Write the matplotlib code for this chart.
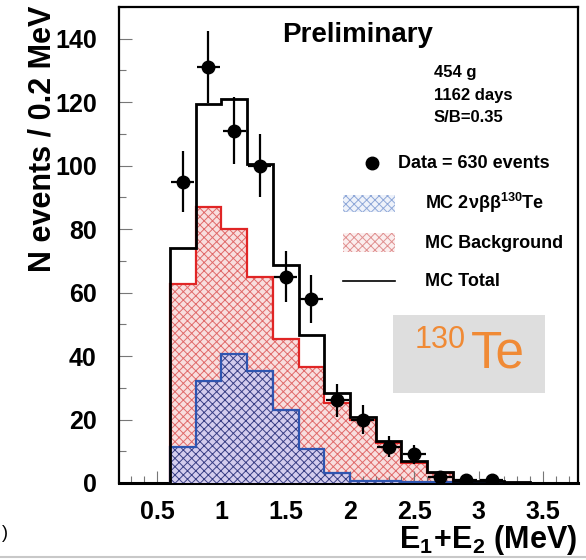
import matplotlib
matplotlib.use("Agg")
import matplotlib.pyplot as plt
from matplotlib.patches import Rectangle
from matplotlib.lines import Line2D
from matplotlib.ticker import MultipleLocator
import numpy as np

plt.rcParams['font.family'] = ['Liberation Sans', 'DejaVu Sans']
plt.rcParams['mathtext.fontset'] = 'custom'
plt.rcParams['mathtext.rm'] = 'Liberation Sans'
plt.rcParams['mathtext.bf'] = 'Liberation Sans:bold'
plt.rcParams['mathtext.it'] = 'Liberation Sans:italic'
plt.rcParams['hatch.linewidth'] = 0.7

# 1. DATA
bin_edges = [0.6, 0.8, 1.0, 1.2, 1.4, 1.6, 1.8, 2.0, 2.2, 2.4, 2.6, 2.8, 3.0, 3.2, 3.4]
mc_signal = [11.3, 32, 40.7, 35.4, 23, 10.8, 3.1, 0.5, 0.5, 0.4, 0.4, 0.0, 0.0, 0.0]
mc_background = [62.6, 87, 80, 64.8, 45.4, 36.5, 25.2, 20, 12.5, 6.3, 3.1, 0.4, 0.4, 0.0]
mc_total = [74, 119.5, 121, 100.4, 68.6, 46.6, 28.3, 20.8, 13.1, 6.8, 3.5, 0.5, 0.5, 0.2]

data_x = [0.7, 0.9, 1.1, 1.3, 1.5, 1.7, 1.9, 2.1, 2.3, 2.5, 2.7, 2.9, 3.1]
data_y = [95, 131, 111, 100, 65, 58, 26, 20, 11.5, 9, 2, 0.8, 0.8]
data_err = [9.7, 11.4, 10.5, 10, 8, 7.6, 5.1, 4.5, 3.4, 3, 1.4, 0.9, 0.9]

# 2. FIGURE
fig = plt.figure(figsize=(5.86, 5.6), dpi=100)
ax = fig.add_axes([0.203, 0.1375, 0.783, 0.85])

# background (red) then signal (blue), both from zero
ax.stairs(mc_background, bin_edges, fill=True, facecolor='#f8dede',
          edgecolor='#e06a6a', hatch='xxxx', lw=0, zorder=1)
ax.stairs(mc_background, bin_edges, color='#e02525', lw=1.6, zorder=2)
ax.stairs(mc_signal, bin_edges, fill=True, facecolor='#d4cdee',
          edgecolor='#3a3f85', hatch='xxxx', lw=0, zorder=3)
ax.stairs(mc_signal, bin_edges, color='#2f55b0', lw=1.6, zorder=4)
ax.stairs(mc_total, bin_edges, color='black', lw=2, zorder=5)

ax.errorbar(data_x, data_y, yerr=data_err, xerr=0.09, fmt='o', color='black',
            ms=9, elinewidth=1.6, capsize=0, zorder=6)

# Limits & ticks
ax.set_xlim(0.205, 3.77)
ax.set_ylim(0, 150)
ax.xaxis.set_major_locator(MultipleLocator(0.5))
ax.xaxis.set_minor_locator(MultipleLocator(0.1))
ax.yaxis.set_major_locator(MultipleLocator(20))
ax.yaxis.set_minor_locator(MultipleLocator(10))
ax.tick_params(which='both', direction='in', top=False, right=False, color='#777777')
ax.tick_params(which='major', length=9, width=0.8)
ax.tick_params(which='minor', length=5, width=0.8)
ax.tick_params(axis='y', which='major', pad=16, labelsize=18)
ax.tick_params(axis='x', which='major', pad=12, labelsize=18)
ax.set_xticks([0.5, 1, 1.5, 2, 2.5, 3, 3.5], ['0.5', '1', '1.5', '2', '2.5', '3', '3.5'])
for lab in ax.get_xticklabels() + ax.get_yticklabels():
    lab.set_fontweight('bold')
for s in ax.spines.values():
    s.set_linewidth(1.6)
ax.spines['bottom'].set_linewidth(2.2)

fig.text(0.072, 0.753, 'N events / 0.2 MeV', rotation=90, ha='center', va='center',
         fontsize=22, fontweight='bold')
fig.text(0.985, 0.036, r'$\mathbf{E_{1}\!+\!E_{2}}$ (MeV)', ha='right', va='center',
         fontsize=22, fontweight='bold')

# Annotations
ax.text(0.355, 0.941, 'Preliminary', transform=ax.transAxes, ha='left', va='center',
        fontsize=20, fontweight='bold')
for txt, yy in [('454 g', 0.863), ('1162 days', 0.815), ('S/B=0.35', 0.767)]:
    ax.text(0.686, yy, txt, transform=ax.transAxes, ha='left', va='center',
            fontsize=12, fontweight='bold')

# Legend (hand-made)
ax.plot([0.551], [0.672], 'o', color='black', ms=9, transform=ax.transAxes, clip_on=False)
ax.text(0.608, 0.672, 'Data = 630 events', transform=ax.transAxes, ha='left', va='center',
        fontsize=13, fontweight='bold')
ax.add_patch(Rectangle((0.488, 0.569), 0.113, 0.036, transform=ax.transAxes,
                       facecolor='#eef2fa', edgecolor='#8fa8d8', hatch='xxxx', lw=0))
ax.text(0.667, 0.588, r'MC 2νββ$^{\mathbf{130}}$Te', transform=ax.transAxes, ha='left',
        va='center', fontsize=13, fontweight='bold')
ax.add_patch(Rectangle((0.488, 0.485), 0.113, 0.040, transform=ax.transAxes,
                       facecolor='#fbeeee', edgecolor='#e09090', hatch='xxxx', lw=0))
ax.text(0.667, 0.504, 'MC Background', transform=ax.transAxes, ha='left', va='center',
        fontsize=13, fontweight='bold')
ax.plot([0.488, 0.601], [0.424, 0.424], color='black', lw=1.2, transform=ax.transAxes)
ax.text(0.667, 0.424, 'MC Total', transform=ax.transAxes, ha='left', va='center',
        fontsize=13, fontweight='bold')

# 130Te box
ax.add_patch(Rectangle((0.597, 0.189), 0.331, 0.164, transform=ax.transAxes,
                       facecolor='#dedede', edgecolor='none', zorder=0.5))
ax.text(0.645, 0.300, '130', transform=ax.transAxes, ha='left', va='center',
        fontsize=22, color='#f08a35')
ax.text(0.768, 0.272, 'Te', transform=ax.transAxes, ha='left', va='center',
        fontsize=37, color='#f08a35')

# leftover of the source image at the lower left
fig.text(0.004, 0.048, ')', ha='left', va='center', fontsize=13)
fig.add_artist(Line2D([0, 1], [0.006, 0.006], color='#c8c8c8', lw=1.5,
                      transform=fig.transFigure))

fig.savefig('out.png', dpi=100)
